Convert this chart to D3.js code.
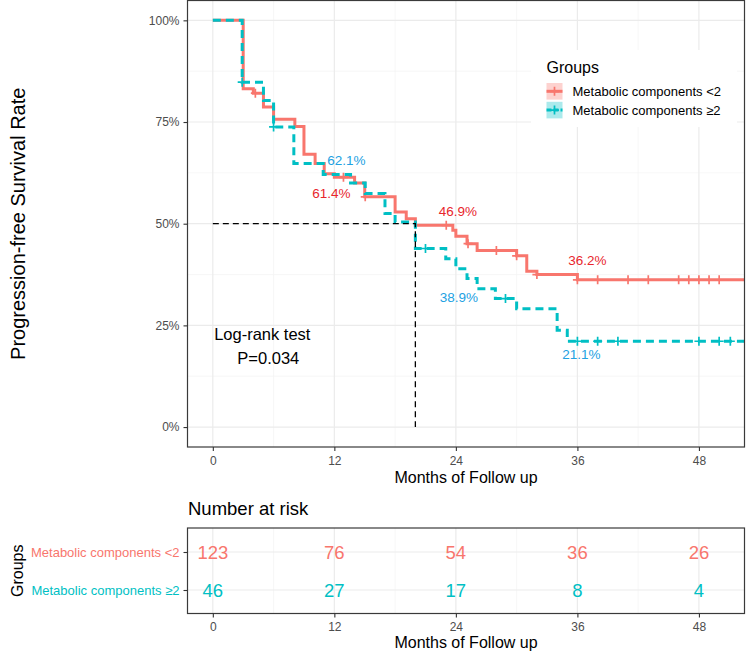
<!DOCTYPE html>
<html><head><meta charset="utf-8">
<script src="https://cdn.jsdelivr.net/npm/d3@7"></script>
<style>
body{margin:0;background:#fff}
svg{display:block}
text{font-family:"Liberation Sans",Arial,Helvetica,sans-serif}
</style>
</head><body>
<svg id="c" width="753" height="661"></svg>
<script>
// ---------------- DATA ----------------
const groups = ["Metabolic components <2", "Metabolic components \u22652"];

// Group 1: Metabolic components <2 (step times in months, survival after step)
const lowTimes = [0, 3.0, 4.0, 5.0, 6.0, 8.1, 9.0, 10.1, 11.0, 12.0, 14.0, 15.0, 18.0, 19.1, 20.0, 23.7, 24.0, 25.1, 26.1, 30.0, 31.0, 32.0, 36.0];
const lowSurv  = [1, 0.832, 0.821, 0.787, 0.757, 0.739, 0.671, 0.648, 0.623, 0.614, 0.600, 0.566, 0.529, 0.512, 0.496, 0.484, 0.469, 0.451, 0.434, 0.421, 0.383, 0.375, 0.362];
const lowCensor = [4.2, 12.9, 15.05, 23.05, 25.2, 28.0, 30.0, 32.0, 36.0, 38.0, 41.0, 43.0, 46.0, 47.0, 48.0, 49.0, 50.0];

// Group 2: Metabolic components >=2
const highTimes = [0, 2.9, 5.0, 6.0, 8.0, 10.9, 13.6, 15.05, 17.0, 18.0, 20.0, 23.0, 24.0, 25.1, 26.1, 27.9, 30.0, 34.0, 35.0];
const highSurv  = [1, 0.848, 0.803, 0.738, 0.648, 0.621, 0.600, 0.574, 0.525, 0.504, 0.439, 0.414, 0.389, 0.365, 0.340, 0.316, 0.291, 0.238, 0.211];
const highCensor = [2.9, 6.0, 21.0, 28.9, 36.0, 38.0, 40.0, 48.0, 50.0, 51.1];

const followUpEnd = 54;
const medianTime = 20;

// Survival labels at landmark times
const labelTimes = [12, 24, 36];
const lowLabels  = ["61.4%", "46.9%", "36.2%"];
const highLabels = ["62.1%", "38.9%", "21.1%"];

// Axis ticks
const xTicks = [0, 12, 24, 36, 48];
const xMinor = [6, 18, 30, 42];
const yTicks = [0, 0.25, 0.5, 0.75, 1];
const yTickLabels = ["0%", "25%", "50%", "75%", "100%"];
const yMinor = [0.125, 0.375, 0.625, 0.875];

// Number at risk
const riskTimes = [0, 12, 24, 36, 48];
const lowRisk  = [123, 76, 54, 36, 26];
const highRisk = [46, 27, 17, 8, 4];

const logRankLines = ["Log-rank test", "P=0.034"];

// ---------------- STYLE / LAYOUT ----------------
const colors = ["#F8766D", "#00BFC4"];
const labelColors = ["#E8262D", "#22A1E2"];
const gridMajor = "#EBEBEB", gridMinorC = "#F3F3F3", borderC = "#3a3a3a", tickText = "#4D4D4D";
// label nudges in px [dx, dy] (layout only)
const lowNudge  = [[-3, 21], [2, -20], [10, -14.5]];
const highNudge = [[12, -9], [3, 33], [4, 18]];

const svg = d3.select("#c");
const P = {left: 187.5, right: 744.5, top: 0.5, bottom: 447};
const x = d3.scaleLinear().domain([-2.5, 52.5]).range([P.left, P.right]);
const y = d3.scaleLinear().domain([-0.05, 1.05]).range([447.4, 0]);

// clip
svg.append("defs").append("clipPath").attr("id", "clipMain")
  .append("rect").attr("x", P.left).attr("y", P.top).attr("width", P.right - P.left).attr("height", P.bottom - P.top);

const main = svg.append("g");
// grid
const grid = main.append("g");
grid.selectAll(".xm").data(xMinor).join("line")
  .attr("x1", d => x(d)).attr("x2", d => x(d)).attr("y1", P.top).attr("y2", P.bottom)
  .attr("stroke", gridMinorC).attr("stroke-width", 0.7);
grid.selectAll(".ym").data(yMinor).join("line")
  .attr("y1", d => y(d)).attr("y2", d => y(d)).attr("x1", P.left).attr("x2", P.right)
  .attr("stroke", gridMinorC).attr("stroke-width", 0.7);
grid.selectAll(".xM").data(xTicks).join("line")
  .attr("x1", d => x(d)).attr("x2", d => x(d)).attr("y1", P.top).attr("y2", P.bottom)
  .attr("stroke", gridMajor).attr("stroke-width", 1.2);
grid.selectAll(".yM").data(yTicks).join("line")
  .attr("y1", d => y(d)).attr("y2", d => y(d)).attr("x1", P.left).attr("x2", P.right)
  .attr("stroke", gridMajor).attr("stroke-width", 1.2);

// curves
function mk(times, surv) {
  const pts = times.map((t, i) => ({t, s: surv[i]}));
  pts.push({t: followUpEnd, s: surv[surv.length - 1]});
  return pts;
}
function survAt(times, surv, t) {
  let s = surv[0];
  for (let i = 0; i < times.length; i++) if (times[i] <= t) s = surv[i];
  return s;
}
const series = [
  {times: lowTimes, surv: lowSurv, cens: lowCensor, color: colors[0], dash: null},
  {times: highTimes, surv: highSurv, cens: highCensor, color: colors[1], dash: "8,5"}
];
const line = d3.line().x(d => x(d.t)).y(d => y(d.s)).curve(d3.curveStepAfter);
const curves = main.append("g").attr("clip-path", "url(#clipMain)");
series.forEach(sr => {
  curves.append("path").datum(mk(sr.times, sr.surv))
    .attr("d", line).attr("fill", "none").attr("stroke", sr.color)
    .attr("stroke-width", 3).attr("stroke-dasharray", sr.dash);
  const h = 4.5;
  curves.selectAll(null).data(sr.cens).join("path")
    .attr("d", t => {
      const cx = x(t), cy = y(survAt(sr.times, sr.surv, t));
      return `M${cx - h},${cy}H${cx + h}M${cx},${cy - h}V${cy + h}`;
    })
    .attr("stroke", sr.color).attr("stroke-width", 1.7).attr("fill", "none");
});

// median line
main.append("path")
  .attr("d", `M${x(0)},${y(0.5)}H${x(medianTime)}V${y(0)}`)
  .attr("fill", "none").attr("stroke", "#000").attr("stroke-width", 1.3).attr("stroke-dasharray", "6,4");

// landmark labels
labelTimes.forEach((t, i) => {
  main.append("text").attr("x", x(t) + lowNudge[i][0]).attr("y", y(survAt(lowTimes, lowSurv, t)) + lowNudge[i][1])
    .attr("text-anchor", "middle").attr("font-size", 13.5).attr("fill", labelColors[0]).text(lowLabels[i]);
  main.append("text").attr("x", x(t) + highNudge[i][0]).attr("y", y(survAt(highTimes, highSurv, t)) + highNudge[i][1])
    .attr("text-anchor", "middle").attr("font-size", 13.5).attr("fill", labelColors[1]).text(highLabels[i]);
});

// log-rank text
main.append("text").attr("x", x(0) + 49.5).attr("y", 340).attr("text-anchor", "middle")
  .attr("font-size", 16.5).attr("fill", "#000").text(logRankLines[0]);
main.append("text").attr("x", x(0) + 55.5).attr("y", 364).attr("text-anchor", "middle")
  .attr("font-size", 16.5).attr("fill", "#000").text(logRankLines[1]);

// legend
const leg = main.append("g");
leg.append("rect").attr("x", 531).attr("y", 50).attr("width", 206).attr("height", 77).attr("fill", "#fff");
leg.append("text").attr("x", 546.5).attr("y", 72.5).attr("font-size", 16).attr("fill", "#000").text("Groups");
series.forEach((sr, i) => {
  const ky = 83 + i * 18.8, kh = 16.6, kx = 546.5, kw = 16;
  leg.append("rect").attr("x", kx).attr("y", ky).attr("width", kw).attr("height", kh)
    .attr("fill", sr.color).attr("fill-opacity", 0.33);
  const cy = ky + kh / 2;
  leg.append("line").attr("x1", kx).attr("x2", kx + kw).attr("y1", cy).attr("y2", cy)
    .attr("stroke", sr.color).attr("stroke-width", 3).attr("stroke-dasharray", i ? "5,2" : null);
  leg.append("path").attr("d", `M${kx + kw / 2 - 4.5},${cy}H${kx + kw / 2 + 4.5}M${kx + kw / 2},${cy - 4.5}V${cy + 4.5}`)
    .attr("stroke", sr.color).attr("stroke-width", 1.7);
  leg.append("text").attr("x", 572.5).attr("y", cy + 4.6).attr("font-size", 13).attr("fill", "#000").text(groups[i]);
});

// panel border
main.append("rect").attr("x", P.left).attr("y", P.top).attr("width", P.right - P.left).attr("height", P.bottom - P.top)
  .attr("fill", "none").attr("stroke", borderC).attr("stroke-width", 1.2);

// axes
function styleAxis(g) {
  g.select(".domain").remove();
  g.selectAll(".tick line").attr("stroke", "#333").attr("stroke-width", 1.1);
  g.selectAll(".tick text").attr("fill", tickText).attr("font-family", "Liberation Sans, Arial, sans-serif");
}
main.append("g").attr("transform", `translate(0,${P.bottom})`)
  .call(d3.axisBottom(x).tickValues(xTicks).tickSize(4).tickPadding(5).tickFormat(d3.format("d")))
  .attr("font-size", 12).call(styleAxis);
main.append("g").attr("transform", `translate(${P.left},0)`)
  .call(d3.axisLeft(y).tickValues(yTicks).tickSize(4).tickPadding(4).tickFormat((d, i) => yTickLabels[i]))
  .attr("font-size", 12).call(styleAxis);

main.append("text").attr("x", (P.left + P.right) / 2).attr("y", 482.5).attr("text-anchor", "middle")
  .attr("font-size", 16).attr("fill", "#000").text("Months of Follow up");
main.append("text").attr("transform", `translate(25,${(P.top + P.bottom) / 2}) rotate(-90)`)
  .attr("text-anchor", "middle").attr("font-size", 20).attr("fill", "#000").text("Progression-free Survival Rate");

// ---------------- RISK TABLE ----------------
const R = {top: 528, bottom: 613.5};
const yr = d3.scalePoint().domain(groups).range([R.top + 24, R.bottom - 23.5]);
const risk = svg.append("g");
risk.append("text").attr("x", 188).attr("y", 515).attr("font-size", 18.5).attr("fill", "#000").text("Number at risk");
risk.selectAll(".rxm").data(xMinor).join("line")
  .attr("x1", d => x(d)).attr("x2", d => x(d)).attr("y1", R.top).attr("y2", R.bottom)
  .attr("stroke", gridMinorC).attr("stroke-width", 0.7);
risk.selectAll(".rxM").data(xTicks).join("line")
  .attr("x1", d => x(d)).attr("x2", d => x(d)).attr("y1", R.top).attr("y2", R.bottom)
  .attr("stroke", gridMajor).attr("stroke-width", 1.2);
risk.selectAll(".ry").data(groups).join("line")
  .attr("y1", d => yr(d)).attr("y2", d => yr(d)).attr("x1", P.left).attr("x2", P.right)
  .attr("stroke", gridMajor).attr("stroke-width", 1.2);
[lowRisk, highRisk].forEach((vals, gi) => {
  risk.selectAll(null).data(vals).join("text")
    .attr("x", (d, i) => x(riskTimes[i])).attr("y", yr(groups[gi])).attr("dy", "0.36em")
    .attr("text-anchor", "middle").attr("font-size", 18.5).attr("fill", colors[gi]).text(d => d);
});
risk.append("rect").attr("x", P.left).attr("y", R.top).attr("width", P.right - P.left).attr("height", R.bottom - R.top)
  .attr("fill", "none").attr("stroke", borderC).attr("stroke-width", 1.2);
risk.append("g").attr("transform", `translate(0,${R.bottom})`)
  .call(d3.axisBottom(x).tickValues(xTicks).tickSize(4).tickPadding(5).tickFormat(d3.format("d")))
  .attr("font-size", 12).call(styleAxis);
const ryAx = risk.append("g").attr("transform", `translate(${P.left},0)`)
  .call(d3.axisLeft(yr).tickSize(4).tickPadding(4))
  .attr("font-size", 13).call(styleAxis);
ryAx.selectAll(".tick text").attr("fill", (d, i) => colors[i]);
risk.append("text").attr("x", (P.left + P.right) / 2).attr("y", 648).attr("text-anchor", "middle")
  .attr("font-size", 16).attr("fill", "#000").text("Months of Follow up");
risk.append("text").attr("transform", `translate(23,${(R.top + R.bottom) / 2}) rotate(-90)`)
  .attr("text-anchor", "middle").attr("font-size", 16).attr("fill", "#000").text("Groups");
</script>
</body></html>
